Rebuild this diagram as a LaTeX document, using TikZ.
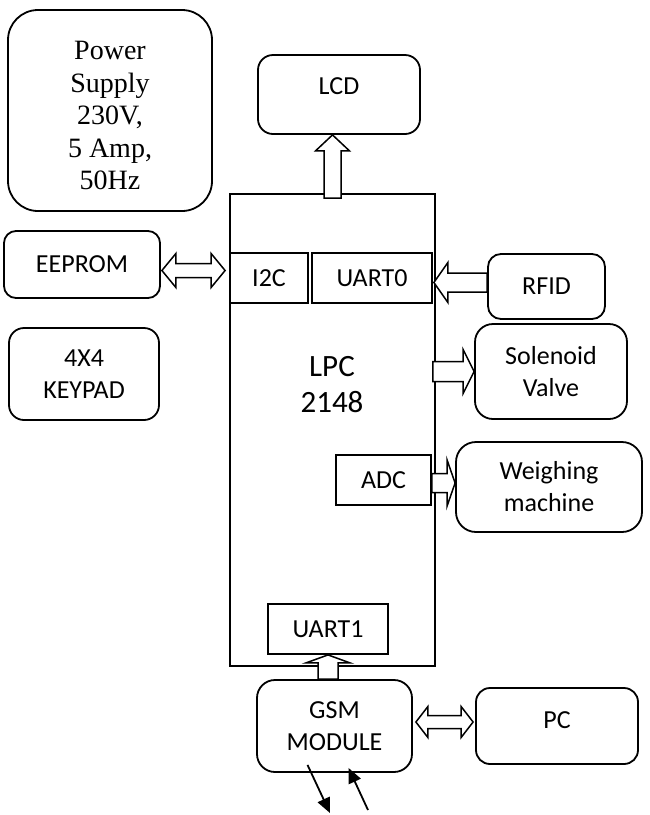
\documentclass[tikz,border=0pt]{standalone}
\usepackage{fontspec}
\setmainfont{Carlito}
\newfontfamily\psfont{Liberation Serif}
\usepackage{tikz}
\usetikzlibrary{calc,arrows.meta}
\tikzset{
	unit/.style={draw, line width=1.8pt, rounded corners=15pt, align=center, inner sep=0pt, font=\fontsize{26}{32}\selectfont},
	port/.style={draw, line width=1.8pt, align=center, inner sep=0pt, font=\fontsize{26}{32}\selectfont},
	wire/.style={line width=1.8pt, -{Triangle[length=15pt,width=13pt]}}
}
% block arrow: [options](from)(to)(shaft half:head half:head length)
\def\blockarrow[#1](#2)(#3)(#4:#5:#6){\draw[#1] let \p1=(#2), \p2=(#3), \n1={veclen(\x2-\x1,\y2-\y1)}, \n2={atan2(\y2-\y1,\x2-\x1)} in [shift={(\p1)}, rotate=\n2] (0pt,-#4pt) -- ({\n1-#6pt},-#4pt) -- ({\n1-#6pt},-#5pt) -- ({\n1*1pt},0pt) -- ({\n1-#6pt},#5pt) -- ({\n1-#6pt},#4pt) -- (0pt,#4pt) -- cycle;}
\def\dblockarrow[#1](#2)(#3)(#4:#5:#6){\draw[#1] let \p1=(#2), \p2=(#3), \n1={veclen(\x2-\x1,\y2-\y1)}, \n2={atan2(\y2-\y1,\x2-\x1)} in [shift={(\p1)}, rotate=\n2] (0pt,0pt) -- (#6pt,#5pt) -- (#6pt,#4pt) -- ({\n1-#6pt},#4pt) -- ({\n1-#6pt},#5pt) -- ({\n1*1pt},0pt) -- ({\n1-#6pt},-#5pt) -- ({\n1-#6pt},-#4pt) -- (#6pt,-#4pt) -- (#6pt,-#5pt) -- cycle;}

\begin{document}
\begin{tikzpicture}[x=1pt, y=-1pt]
		%%%%% START %%%%%
		\useasboundingbox (0, 0) rectangle (650, 815);
		
		\node[unit, rounded corners=30pt, minimum width=204pt, minimum height=201pt, font=\psfont\fontsize{28}{32.5}\selectfont] (power) at (110, 110.5) {\rule{0pt}{29pt}Power\\Supply\\230V,\\5 Amp,\\50Hz};
		\node[unit, minimum width=162pt, minimum height=79pt, text depth=16pt] (lcd) at (339, 94.5) {LCD};
		
		\node[port, minimum width=205pt, minimum height=472pt] (lpc) at (332.5, 430) {};
		\node[align=center, font=\fontsize{31}{36}\selectfont] (lpctxt) at (332, 385) {LPC\\2148};
		\node[port, minimum width=78pt, minimum height=50pt] (i2c) at (269, 278) {I2C};
		\node[port, minimum width=120pt, minimum height=50pt] (uart0) at (372, 278) {UART0};
		\node[port, minimum width=95pt, minimum height=50pt] (adc) at (383.5, 480) {ADC};
		\node[port, minimum width=120pt, minimum height=50pt] (uart1) at (328, 629) {UART1};
		
		\node[unit, rounded corners=12pt, minimum width=156pt, minimum height=67pt] (eeprom) at (82, 264.5) {EEPROM};
		\node[unit, minimum width=150pt, minimum height=92pt] (keypad) at (84, 374) {4X4\\KEYPAD};
		
		\node[unit, rounded corners=13pt, minimum width=117pt, minimum height=65pt] (rfid) at (546.5, 286.5) {RFID};
		\node[unit, rounded corners=18pt, minimum width=152pt, minimum height=95pt] (valve) at (551, 371.5) {Solenoid\\Valve};
		\node[unit, rounded corners=20pt, minimum width=186pt, minimum height=90pt] (weigh) at (549, 487) {Weighing\\machine};
		
		\node[unit, rounded corners=18pt, minimum width=155pt, minimum height=92pt] (gsm) at (334.5, 726) {GSM\\MODULE};
		\node[unit, rounded corners=14pt, minimum width=162pt, minimum height=76pt, text depth=12pt] (pc) at (557, 726) {PC};
		
		% block arrows
		\blockarrow[line width=1.5pt, fill=white]($(lpc.north)+(0,5)$)(lcd.south -| lpc.north)(8.5:17:16);
		\dblockarrow[line width=1.5pt, fill=white]($(eeprom.east)+(1,6)$)($(i2c.west |- eeprom.east)+(-4,6)$)(7:17:14);
		\blockarrow[line width=1.5pt, fill=white]($(rfid.west)+(0,-4)$)($(uart0.east |- rfid.west)+(1,-4)$)(9.5:20:14);
		\blockarrow[line width=1.5pt, fill=white]($(lpc.east |- valve.west)+(-3,0)$)(valve.west)(10:22:11);
		\blockarrow[line width=1.5pt, fill=white]($(adc.east)+(0,3)$)($(weigh.west |- adc.east)+(0,3)$)(9.5:23:8);
		\blockarrow[line width=1.5pt, fill=white](gsm.north -| uart1.south)(uart1.south)(10:22:8);
		\dblockarrow[line width=1.5pt, fill=white]($(gsm.east)+(3,-4)$)($(pc.west)+(-2,-4)$)(6.5:15.5:12);
		
		% antenna arrows
		\coordinate (down) at (330, 813);
		\coordinate (up) at (368, 810);
		\draw[wire] ($(gsm.south)+(-27,-8)$) -- (down);
		\draw[wire] (up) -- ($(gsm.south)+(14,-5)$);
		
		%%%%% END %%%%%
	\end{tikzpicture}
\end{document}
